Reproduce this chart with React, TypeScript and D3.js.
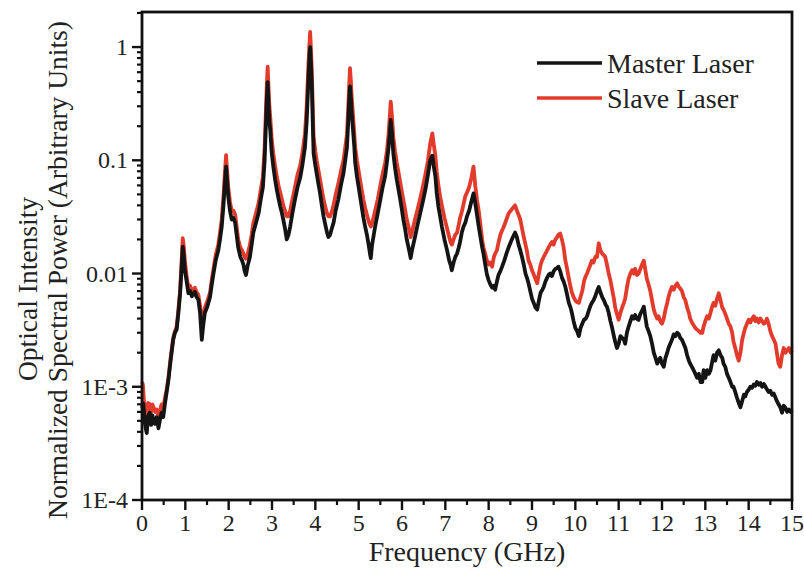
import React from "react";
import * as d3 from "d3";

const xTickLabels = ["0","1","2","3","4","5","6","7","8","9","10","11","12","13","14","15"];
const yTickValues = [1e-4, 1e-3, 1e-2, 1e-1, 1];
const yTickLabels = ["1E-4", "1E-3", "0.01", "0.1", "1"];
const seriesNames = ["Master Laser", "Slave Laser"];
const seriesColors = ["#141414", "#e23b2b"];

// [frequency GHz, normalized power]
const masterLaser: [number, number][] = [
[0.00,6.5e-4],[0.03,7.1e-4],[0.06,5.0e-4],[0.09,4.2e-4],[0.11,3.9e-4],[0.14,5.5e-4],[0.18,5.9e-4],[0.21,4.6e-4],[0.24,5.6e-4],[0.27,5.0e-4],[0.30,4.7e-4],[0.34,5.4e-4],[0.38,4.3e-4],[0.41,5.0e-4],[0.45,5.9e-4],[0.49,5.4e-4],[0.53,7.1e-4],[0.57,9.0e-4],[0.61,1.15e-3],[0.66,1.7e-3],[0.72,2.6e-3],[0.76,3.0e-3],[0.80,3.2e-3],[0.84,4.5e-3],[0.88,6.7e-3],[0.91,0.0105],[0.94,0.0173],[0.96,0.0150],[0.99,0.0107],[1.03,0.0085],[1.07,0.0067],[1.11,0.0070],[1.15,0.0063],[1.19,0.0066],[1.22,0.0069],[1.26,0.0062],[1.30,0.0059],[1.34,0.0045],[1.38,0.0026],[1.41,0.0034],[1.45,0.0045],[1.50,0.0050],[1.57,0.0062],[1.61,0.0080],[1.65,0.010],[1.70,0.013],[1.76,0.016],[1.80,0.020],[1.84,0.026],[1.88,0.040],[1.91,0.060],[1.94,0.088],[1.96,0.070],[1.99,0.048],[2.03,0.036],[2.07,0.030],[2.11,0.031],[2.15,0.028],[2.19,0.021],[2.22,0.017],[2.27,0.014],[2.31,0.013],[2.34,0.012],[2.37,0.0105],[2.40,0.0097],[2.44,0.0118],[2.49,0.014],[2.53,0.018],[2.57,0.023],[2.63,0.028],[2.69,0.034],[2.74,0.045],[2.79,0.058],[2.83,0.10],[2.86,0.21],[2.88,0.34],[2.90,0.49],[2.92,0.32],[2.94,0.22],[2.96,0.185],[2.99,0.12],[3.03,0.088],[3.07,0.068],[3.11,0.055],[3.15,0.046],[3.19,0.039],[3.23,0.034],[3.26,0.030],[3.30,0.025],[3.34,0.020],[3.38,0.022],[3.42,0.026],[3.47,0.034],[3.53,0.045],[3.59,0.058],[3.65,0.070],[3.70,0.090],[3.76,0.13],[3.80,0.22],[3.84,0.51],[3.86,0.75],[3.88,1.0],[3.90,0.70],[3.92,0.45],[3.94,0.22],[3.96,0.115],[4.00,0.090],[4.03,0.077],[4.07,0.062],[4.11,0.051],[4.15,0.040],[4.19,0.032],[4.23,0.027],[4.27,0.023],[4.30,0.021],[4.34,0.022],[4.38,0.025],[4.42,0.028],[4.47,0.036],[4.53,0.045],[4.59,0.060],[4.65,0.077],[4.69,0.100],[4.73,0.13],[4.76,0.22],[4.78,0.33],[4.80,0.45],[4.82,0.36],[4.84,0.26],[4.87,0.185],[4.90,0.13],[4.92,0.095],[4.96,0.072],[5.00,0.058],[5.04,0.046],[5.07,0.039],[5.11,0.031],[5.15,0.026],[5.19,0.022],[5.23,0.018],[5.26,0.015],[5.28,0.0137],[5.31,0.018],[5.34,0.021],[5.38,0.026],[5.44,0.034],[5.50,0.045],[5.55,0.057],[5.61,0.072],[5.65,0.095],[5.69,0.13],[5.72,0.18],[5.74,0.227],[5.77,0.17],[5.80,0.115],[5.84,0.085],[5.88,0.067],[5.92,0.055],[5.96,0.045],[6.00,0.036],[6.03,0.030],[6.07,0.025],[6.11,0.020],[6.15,0.017],[6.18,0.015],[6.20,0.0137],[6.23,0.016],[6.26,0.018],[6.30,0.021],[6.36,0.027],[6.42,0.034],[6.48,0.043],[6.54,0.055],[6.60,0.075],[6.65,0.100],[6.70,0.110],[6.73,0.090],[6.77,0.072],[6.80,0.052],[6.84,0.039],[6.88,0.032],[6.92,0.026],[6.98,0.020],[7.04,0.016],[7.09,0.013],[7.12,0.012],[7.15,0.0107],[7.19,0.0125],[7.23,0.014],[7.27,0.015],[7.31,0.017],[7.34,0.019],[7.38,0.023],[7.42,0.026],[7.46,0.028],[7.50,0.032],[7.55,0.036],[7.60,0.043],[7.65,0.051],[7.69,0.042],[7.73,0.033],[7.77,0.026],[7.81,0.021],[7.85,0.017],[7.88,0.015],[7.92,0.012],[7.96,0.0098],[8.00,0.0087],[8.04,0.0080],[8.08,0.0075],[8.12,0.0078],[8.15,0.0072],[8.19,0.0085],[8.23,0.0098],[8.27,0.0105],[8.31,0.0115],[8.36,0.013],[8.41,0.015],[8.46,0.017],[8.51,0.019],[8.56,0.021],[8.61,0.023],[8.65,0.021],[8.69,0.018],[8.73,0.016],[8.77,0.014],[8.81,0.012],[8.85,0.010],[8.89,0.0090],[8.92,0.0082],[8.96,0.0070],[9.00,0.0060],[9.04,0.0055],[9.08,0.0050],[9.12,0.0048],[9.16,0.0058],[9.20,0.0068],[9.24,0.0072],[9.27,0.0076],[9.31,0.0085],[9.35,0.0092],[9.39,0.0098],[9.42,0.010],[9.46,0.0095],[9.50,0.0105],[9.54,0.011],[9.58,0.0112],[9.61,0.0115],[9.65,0.0105],[9.69,0.0092],[9.73,0.0085],[9.77,0.0076],[9.81,0.0065],[9.85,0.0055],[9.89,0.0050],[9.92,0.0045],[9.96,0.0038],[10.00,0.0033],[10.04,0.0031],[10.08,0.0028],[10.12,0.0033],[10.16,0.0036],[10.20,0.0039],[10.24,0.0040],[10.27,0.0042],[10.31,0.0047],[10.35,0.0052],[10.38,0.0055],[10.42,0.0058],[10.46,0.0063],[10.50,0.0070],[10.54,0.0076],[10.58,0.0068],[10.62,0.0062],[10.66,0.0058],[10.70,0.0053],[10.73,0.0051],[10.77,0.0045],[10.81,0.0038],[10.85,0.0033],[10.89,0.0028],[10.92,0.0025],[10.96,0.0022],[11.00,0.0024],[11.04,0.0028],[11.08,0.0027],[11.12,0.0026],[11.15,0.0024],[11.19,0.0030],[11.23,0.0034],[11.27,0.0038],[11.31,0.0042],[11.35,0.0040],[11.38,0.0043],[11.42,0.0040],[11.46,0.0039],[11.50,0.0044],[11.54,0.0047],[11.58,0.0051],[11.62,0.0040],[11.65,0.0034],[11.69,0.0031],[11.73,0.0028],[11.77,0.0024],[11.81,0.0020],[11.85,0.0018],[11.89,0.0016],[11.92,0.0017],[11.96,0.0018],[12.00,0.0016],[12.04,0.0015],[12.08,0.0018],[12.12,0.0020],[12.15,0.0022],[12.19,0.0024],[12.23,0.0026],[12.27,0.0029],[12.31,0.0028],[12.35,0.0030],[12.39,0.0029],[12.42,0.0027],[12.46,0.0026],[12.50,0.0024],[12.54,0.0022],[12.58,0.0019],[12.62,0.0017],[12.65,0.0016],[12.69,0.0015],[12.73,0.0014],[12.77,0.0013],[12.81,0.0012],[12.85,0.0013],[12.89,0.0011],[12.93,0.0011],[12.96,0.0014],[13.00,0.0012],[13.04,0.0014],[13.08,0.0013],[13.12,0.0014],[13.15,0.0016],[13.19,0.0019],[13.23,0.0017],[13.27,0.0020],[13.31,0.0021],[13.35,0.0019],[13.39,0.0018],[13.42,0.0016],[13.46,0.0015],[13.50,0.0013],[13.54,0.0012],[13.58,0.0011],[13.62,0.0010],[13.65,0.0010],[13.69,0.00090],[13.73,0.00080],[13.77,0.00072],[13.81,0.00066],[13.85,0.00075],[13.89,0.00085],[13.92,0.00082],[13.96,0.00090],[14.00,0.00094],[14.04,0.00100],[14.08,0.00098],[14.12,0.00105],[14.15,0.00102],[14.19,0.0011],[14.23,0.00104],[14.27,0.00108],[14.31,0.00100],[14.35,0.00106],[14.39,0.0010],[14.42,0.00095],[14.46,0.00090],[14.50,0.00092],[14.54,0.00085],[14.58,0.00087],[14.62,0.00080],[14.65,0.00075],[14.69,0.00070],[14.73,0.00066],[14.77,0.00059],[14.81,0.00068],[14.85,0.00065],[14.89,0.00060],[14.93,0.00063],[14.97,0.00060],[15.00,0.00062]
];

const slaveLaser: [number, number][] = [
[0.00,1.1e-3],[0.02,1.05e-3],[0.05,7.0e-4],[0.08,6.5e-4],[0.11,5.5e-4],[0.14,7.2e-4],[0.18,7.0e-4],[0.21,6.0e-4],[0.24,7.0e-4],[0.27,6.5e-4],[0.30,6.0e-4],[0.34,6.3e-4],[0.38,5.5e-4],[0.41,6.0e-4],[0.45,7.0e-4],[0.49,6.5e-4],[0.53,8.0e-4],[0.57,9.5e-4],[0.61,1.2e-3],[0.66,1.8e-3],[0.72,2.7e-3],[0.76,3.1e-3],[0.80,3.4e-3],[0.84,4.8e-3],[0.88,7.2e-3],[0.91,0.012],[0.94,0.0205],[0.96,0.018],[0.99,0.013],[1.03,0.0095],[1.07,0.0075],[1.11,0.0078],[1.15,0.0070],[1.19,0.0072],[1.22,0.0075],[1.26,0.0068],[1.30,0.0065],[1.34,0.0052],[1.38,0.0038],[1.41,0.0040],[1.45,0.0050],[1.50,0.0056],[1.57,0.0068],[1.61,0.0088],[1.65,0.011],[1.70,0.0145],[1.76,0.018],[1.80,0.023],[1.84,0.030],[1.88,0.048],[1.91,0.075],[1.94,0.111],[1.96,0.085],[1.99,0.058],[2.03,0.043],[2.07,0.036],[2.11,0.036],[2.15,0.033],[2.19,0.025],[2.22,0.020],[2.27,0.017],[2.31,0.016],[2.34,0.015],[2.37,0.014],[2.40,0.0135],[2.44,0.015],[2.49,0.018],[2.53,0.022],[2.57,0.028],[2.63,0.034],[2.69,0.042],[2.74,0.055],[2.79,0.072],[2.83,0.13],[2.86,0.28],[2.88,0.46],[2.90,0.67],[2.92,0.44],[2.94,0.30],[2.96,0.24],[2.99,0.16],[3.03,0.115],[3.07,0.090],[3.11,0.072],[3.15,0.060],[3.19,0.052],[3.23,0.045],[3.26,0.040],[3.30,0.036],[3.34,0.032],[3.38,0.032],[3.42,0.036],[3.47,0.045],[3.53,0.058],[3.59,0.075],[3.65,0.090],[3.70,0.115],[3.76,0.17],[3.80,0.30],[3.84,0.70],[3.86,1.0],[3.88,1.36],[3.90,0.95],[3.92,0.60],[3.94,0.30],[3.96,0.16],[4.00,0.12],[4.03,0.10],[4.07,0.082],[4.11,0.068],[4.15,0.055],[4.19,0.045],[4.23,0.039],[4.27,0.034],[4.30,0.032],[4.34,0.032],[4.38,0.035],[4.42,0.040],[4.47,0.050],[4.53,0.062],[4.59,0.080],[4.65,0.10],[4.69,0.13],[4.73,0.17],[4.76,0.30],[4.78,0.45],[4.80,0.65],[4.82,0.50],[4.84,0.36],[4.87,0.25],[4.90,0.17],[4.92,0.13],[4.96,0.10],[5.00,0.080],[5.04,0.065],[5.07,0.055],[5.11,0.045],[5.15,0.038],[5.19,0.033],[5.23,0.029],[5.26,0.027],[5.28,0.026],[5.31,0.028],[5.34,0.031],[5.38,0.036],[5.44,0.045],[5.50,0.060],[5.55,0.075],[5.61,0.095],[5.65,0.12],[5.69,0.17],[5.72,0.25],[5.74,0.33],[5.77,0.24],[5.80,0.16],[5.84,0.12],[5.88,0.095],[5.92,0.078],[5.96,0.064],[6.00,0.052],[6.03,0.045],[6.07,0.037],[6.11,0.030],[6.15,0.026],[6.18,0.023],[6.20,0.021],[6.23,0.023],[6.26,0.026],[6.30,0.030],[6.36,0.037],[6.42,0.046],[6.48,0.058],[6.54,0.075],[6.60,0.10],[6.65,0.14],[6.70,0.173],[6.73,0.14],[6.77,0.11],[6.80,0.080],[6.84,0.060],[6.88,0.048],[6.92,0.040],[6.98,0.031],[7.04,0.025],[7.09,0.021],[7.12,0.019],[7.15,0.018],[7.19,0.020],[7.23,0.022],[7.27,0.023],[7.31,0.027],[7.34,0.031],[7.38,0.035],[7.42,0.041],[7.46,0.048],[7.50,0.052],[7.55,0.058],[7.60,0.070],[7.65,0.088],[7.69,0.060],[7.73,0.045],[7.77,0.036],[7.81,0.027],[7.85,0.020],[7.88,0.017],[7.92,0.015],[7.96,0.013],[8.00,0.012],[8.04,0.0125],[8.08,0.0115],[8.12,0.014],[8.15,0.015],[8.19,0.016],[8.23,0.019],[8.27,0.022],[8.31,0.024],[8.35,0.026],[8.41,0.030],[8.46,0.034],[8.51,0.036],[8.56,0.038],[8.61,0.040],[8.65,0.036],[8.69,0.033],[8.73,0.030],[8.77,0.025],[8.81,0.021],[8.85,0.018],[8.88,0.016],[8.92,0.013],[8.96,0.012],[9.00,0.0107],[9.04,0.0098],[9.08,0.0090],[9.12,0.0082],[9.16,0.010],[9.20,0.012],[9.23,0.013],[9.27,0.014],[9.31,0.015],[9.35,0.016],[9.38,0.017],[9.42,0.018],[9.46,0.019],[9.50,0.018],[9.54,0.020],[9.58,0.021],[9.61,0.022],[9.65,0.0226],[9.69,0.020],[9.73,0.017],[9.77,0.013],[9.81,0.011],[9.85,0.0090],[9.89,0.0076],[9.92,0.0068],[9.96,0.0062],[10.00,0.0058],[10.04,0.0056],[10.08,0.0055],[10.12,0.0062],[10.16,0.0070],[10.20,0.0085],[10.23,0.0093],[10.27,0.010],[10.31,0.011],[10.35,0.012],[10.38,0.013],[10.42,0.0125],[10.46,0.014],[10.50,0.014],[10.54,0.0185],[10.58,0.016],[10.62,0.015],[10.66,0.0145],[10.69,0.014],[10.73,0.012],[10.77,0.010],[10.81,0.0087],[10.85,0.0072],[10.89,0.0060],[10.92,0.0050],[10.96,0.0044],[11.00,0.0039],[11.04,0.0045],[11.08,0.0050],[11.12,0.0055],[11.15,0.0060],[11.19,0.0075],[11.23,0.0090],[11.27,0.0100],[11.31,0.0107],[11.35,0.0100],[11.38,0.0110],[11.42,0.0097],[11.46,0.0100],[11.50,0.0110],[11.54,0.0120],[11.58,0.013],[11.62,0.0105],[11.65,0.0090],[11.69,0.0080],[11.73,0.0070],[11.77,0.0058],[11.81,0.0048],[11.85,0.0043],[11.89,0.0040],[11.92,0.0042],[11.96,0.0038],[12.00,0.0036],[12.04,0.0040],[12.08,0.0048],[12.12,0.0055],[12.15,0.0062],[12.19,0.0070],[12.23,0.0076],[12.27,0.0072],[12.31,0.0078],[12.35,0.0082],[12.39,0.0076],[12.42,0.0074],[12.46,0.0070],[12.50,0.0062],[12.54,0.0058],[12.58,0.0050],[12.62,0.0045],[12.65,0.0040],[12.69,0.0037],[12.73,0.0035],[12.77,0.0033],[12.81,0.0032],[12.85,0.0031],[12.89,0.0030],[12.93,0.0030],[12.96,0.0034],[13.00,0.0038],[13.04,0.0042],[13.08,0.0040],[13.12,0.0045],[13.15,0.0050],[13.19,0.0055],[13.23,0.0052],[13.27,0.0060],[13.31,0.0067],[13.35,0.0058],[13.39,0.0050],[13.42,0.0048],[13.46,0.0044],[13.50,0.0040],[13.54,0.0036],[13.58,0.0034],[13.62,0.0030],[13.65,0.0025],[13.69,0.0022],[13.73,0.0019],[13.77,0.0017],[13.81,0.0020],[13.85,0.0026],[13.89,0.0030],[13.92,0.0033],[13.96,0.0036],[14.00,0.0039],[14.04,0.0037],[14.08,0.0040],[14.12,0.0042],[14.15,0.0038],[14.19,0.0040],[14.23,0.0037],[14.27,0.0040],[14.31,0.0038],[14.35,0.0036],[14.39,0.0037],[14.42,0.0040],[14.46,0.0036],[14.50,0.0031],[14.54,0.0028],[14.58,0.0026],[14.62,0.0024],[14.65,0.0020],[14.69,0.0016],[14.73,0.0015],[14.77,0.0019],[14.81,0.0022],[14.85,0.0020],[14.89,0.0021],[14.93,0.0022],[14.97,0.0020],[15.00,0.0021]
];

const W = 804, H = 572;
const L = 142, R = 792, T = 12, B = 500;
const FONT = "'Liberation Serif', 'Times New Roman', serif";

export default function App() {
  const x = d3.scaleLinear().domain([0, 15]).range([L, R]);
  const y = d3.scaleLog().domain([1e-4, 2.04]).range([B, T]);
  const line = d3.line<[number, number]>().x(d => x(d[0])).y(d => y(d[1]));

  const xMajor = d3.range(0, 16, 1);
  const xMinor = d3.range(0.5, 15, 1);
  const yMinor: number[] = [];
  for (let e = -4; e <= 0; e++) for (let m = 2; m <= 9; m++) {
    const v = m * Math.pow(10, e);
    if (v < 2.04) yMinor.push(v);
  }

  return (
    <svg width={W} height={H} style={{ position: "absolute", left: 0, top: 0, background: "#fff" }} fontFamily={FONT}>
      <rect x={0} y={0} width={W} height={H} fill="#fff" />
      <path d={line(slaveLaser) || ""} fill="none" stroke={seriesColors[1]} strokeWidth={3.8} strokeLinejoin="round" />
      <path d={line(masterLaser) || ""} fill="none" stroke={seriesColors[0]} strokeWidth={3.8} strokeLinejoin="round" />
      <rect x={L} y={T} width={R - L} height={B - T} fill="none" stroke="#111" strokeWidth={2.8} />
      {xMajor.map((v, i) => (
        <g key={"xm" + i}>
          <line x1={x(v)} x2={x(v)} y1={B} y2={B + 10} stroke="#111" strokeWidth={2.4} />
          <text x={x(v)} y={523} fontSize={24} textAnchor="middle" dominantBaseline="central" fill="#222">{xTickLabels[i]}</text>
        </g>
      ))}
      {xMinor.map((v, i) => (
        <line key={"xn" + i} x1={x(v)} x2={x(v)} y1={B} y2={B + 5} stroke="#111" strokeWidth={2.2} />
      ))}
      {yTickValues.map((v, i) => (
        <g key={"ym" + i}>
          <line x1={L - 10} x2={L} y1={y(v)} y2={y(v)} stroke="#111" strokeWidth={2.4} />
          <text x={128} y={y(v)} fontSize={24} textAnchor="end" dominantBaseline="central" fill="#222">{yTickLabels[i]}</text>
        </g>
      ))}
      {yMinor.map((v, i) => (
        <line key={"yn" + i} x1={L - 5} x2={L} y1={y(v)} y2={y(v)} stroke="#111" strokeWidth={2.2} />
      ))}
      <text x={467} y={551} fontSize={28} textAnchor="middle" dominantBaseline="central" fill="#222">Frequency (GHz)</text>
      <text transform={`translate(27,289) rotate(-90)`} fontSize={27.5} textAnchor="middle" dominantBaseline="central" fill="#222">Optical Intensity</text>
      <text transform={`translate(57,270) rotate(-90)`} fontSize={27.5} textAnchor="middle" dominantBaseline="central" fill="#222">Normalized Spectral Power (Arbitrary Units)</text>
      {seriesNames.map((n, i) => (
        <g key={"lg" + i}>
          <line x1={537} x2={602} y1={63 + i * 35} y2={63 + i * 35} stroke={seriesColors[i]} strokeWidth={3.6} />
          <text x={607} y={63 + i * 35} fontSize={28} dominantBaseline="central" fill="#222">{n}</text>
        </g>
      ))}
    </svg>
  );
}
